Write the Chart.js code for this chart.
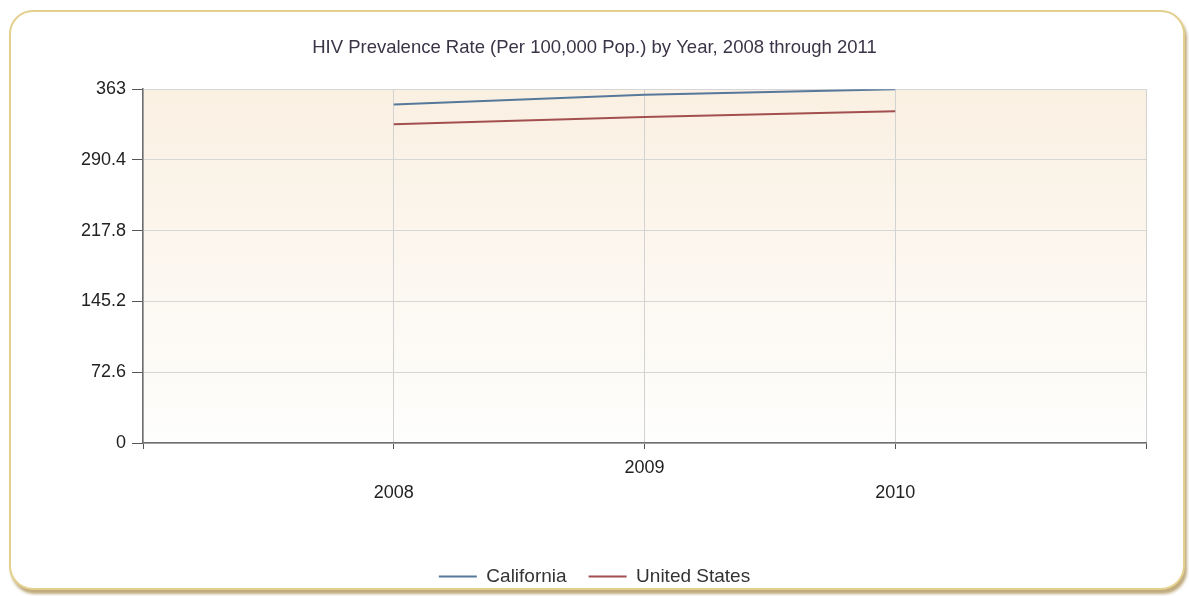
<!DOCTYPE html>
<html>
<head>
<meta charset="utf-8">
<script src="https://cdn.jsdelivr.net/npm/chart.js@4/dist/chart.umd.min.js"></script>
<style>
  html, body { margin: 0; padding: 0; background: #fff; }
  #frame {
    position: absolute; left: 9px; top: 10px; width: 1172px; height: 576px;
    border: 2px solid #e4d08e; border-radius: 24px; background: #fff;
    box-shadow: 2px 4px 3px rgba(170, 140, 80, 0.75);
  }
  #wrap { position: absolute; left: 0; top: 0; width: 1189px; height: 596px; }
</style>
</head>
<body>
<div id="frame"></div>
<div id="wrap"><canvas id="chart" width="1189" height="596"></canvas></div>
<script>
const years = [2008, 2009, 2010];
const california = [347.3, 357.2, 363];
const unitedStates = [327.1, 334.6, 340.4];
const yTicks = [0, 72.6, 145.2, 217.8, 290.4, 363];

const FONT = "'Liberation Sans', Arial, sans-serif";

// soft beige gradient behind the plot
const plotBackground = {
    id: 'plotBackground',
    beforeDraw(chart) {
        const { ctx, chartArea: a } = chart;
        const g = ctx.createLinearGradient(0, a.top, 0, a.bottom);
        g.addColorStop(0, '#faf0e2');
        g.addColorStop(1, '#fefefd');
        ctx.save();
        ctx.fillStyle = g;
        ctx.fillRect(a.left, a.top, a.right - a.left, a.bottom - a.top);
        ctx.restore();
    }
};

const toPoints = vals => years.map((y, i) => ({ x: y, y: vals[i] }));

new Chart(document.getElementById('chart'), {
    type: 'line',
    data: {
        datasets: [
            {
                label: 'California',
                data: toPoints(california),
                borderColor: '#56789a',
                backgroundColor: '#56789a',
                borderWidth: 2,
                pointRadius: 0,
                tension: 0
            },
            {
                label: 'United States',
                data: toPoints(unitedStates),
                borderColor: '#a34f4f',
                backgroundColor: '#a34f4f',
                borderWidth: 2,
                pointRadius: 0,
                tension: 0
            }
        ]
    },
    options: {
        responsive: false,
        animation: false,
        layout: { padding: { left: 43, right: 43, top: 0, bottom: 0 } },
        plugins: {
            title: {
                display: true,
                text: 'HIV Prevalence Rate (Per 100,000 Pop.) by Year, 2008 through 2011',
                color: '#3b3346',
                font: { family: FONT, size: 18.5, weight: 'normal' },
                padding: { top: 37, bottom: 30 }
            },
            legend: {
                position: 'bottom',
                labels: {
                    color: '#333',
                    font: { family: FONT, size: 19 },
                    boxWidth: 38,
                    boxHeight: 0,
                    padding: 22
                }
            },
            tooltip: { enabled: false }
        },
        scales: {
            x: {
                type: 'linear',
                min: 2007,
                max: 2011,
                afterFit(scale) { scale.height = 102; },
                ticks: {
                    stepSize: 1,
                    maxRotation: 0,
                    autoSkip: false,
                    padding: 7,
                    color: '#222',
                    font: { family: FONT, size: 18, lineHeight: '25px' },
                    callback(v) {
                        if (v === 2009) return ['2009', ''];
                        if (v === 2008 || v === 2010) return ['', String(v)];
                        return '';
                    }
                },
                grid: {
                    color: '#d2d2d2',
                    borderDash: [2, 2],
                    tickColor: '#555',
                    tickBorderDash: [],
                    tickLength: 6
                },
                border: { color: '#6e6e6e', width: 1.5 }
            },
            y: {
                min: 0,
                max: 363,
                afterFit(scale) { scale.width = 100; },
                afterBuildTicks(scale) { scale.ticks = yTicks.map(v => ({ value: v })); },
                ticks: {
                    padding: 6,
                    color: '#222',
                    font: { family: FONT, size: 18 },
                    callback: v => String(v)
                },
                grid: {
                    color: '#d6d6d6',
                    tickColor: '#555',
                    tickLength: 11
                },
                border: { color: '#6e6e6e', width: 1.5 }
            }
        }
    },
    plugins: [plotBackground]
});
</script>
</body>
</html>
